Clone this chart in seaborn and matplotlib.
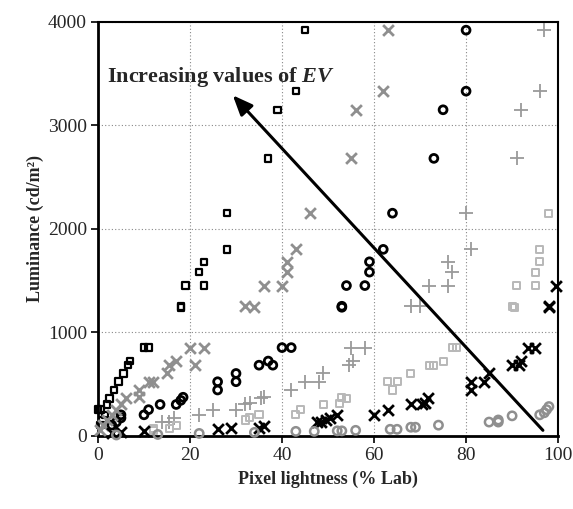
import matplotlib
matplotlib.use("Agg")
import matplotlib.pyplot as plt
import seaborn as sns
import pandas as pd

# ---------------- data ----------------
sq_black_x = [45, 43, 39, 37, 28, 28, 23, 22, 19, 23, 18, 18, 11, 10, 7, 6.5, 5.5, 4.5, 3.5, 2.5, 2, 0.5, 0, 1.5, 1, 0.5]
sq_black_y = [3920, 3330, 3150, 2680, 2150, 1800, 1680, 1580, 1450, 1450, 1250, 1240, 850, 850, 720, 680, 600, 520, 440, 360, 300, 250, 250, 200, 150, 100]

circ_black_x = [80, 80, 75, 73, 64, 62, 59, 59, 54, 58, 53, 53, 40, 42, 37, 35, 38, 30, 30, 26, 26, 18.5, 18, 17, 13.5, 11, 10, 5, 5, 4, 3]
circ_black_y = [3920, 3330, 3150, 2680, 2150, 1800, 1680, 1580, 1450, 1450, 1250, 1240, 850, 850, 720, 680, 680, 600, 520, 520, 440, 370, 340, 300, 300, 250, 200, 200, 170, 130, 100]

x_gray_x = [63, 62, 56, 55, 46, 43, 41, 41, 36, 40, 32, 34, 20, 23, 17, 15.5, 21, 15, 11, 12, 9, 9, 6, 5, 4, 3, 2, 1, 0.5]
x_gray_y = [3920, 3330, 3150, 2680, 2150, 1800, 1680, 1580, 1450, 1450, 1250, 1240, 850, 850, 720, 680, 680, 600, 520, 520, 440, 370, 360, 300, 250, 200, 150, 100, 50]

plus_gray_x = [97, 96, 92, 91, 80, 81, 76, 77, 72, 76, 68, 70, 55, 58, 55.5, 54.5, 49, 48, 45, 42, 36, 35.5, 33, 32, 30, 25, 22, 16.5, 15.5, 14]
plus_gray_y = [3920, 3330, 3150, 2680, 2150, 1800, 1680, 1580, 1450, 1450, 1250, 1250, 850, 850, 720, 680, 600, 520, 520, 440, 370, 360, 310, 300, 250, 250, 200, 170, 130, 130]

sq_light_x = [98, 96, 96, 95, 91, 95, 90, 90.5, 77, 78, 75, 72, 73, 68, 63, 65, 64, 53, 54, 52.5, 49, 44, 43, 35, 33, 32, 17, 15.5, 12, 12]
sq_light_y = [2150, 1800, 1680, 1580, 1450, 1450, 1250, 1240, 850, 850, 720, 680, 680, 600, 520, 520, 440, 370, 360, 310, 300, 250, 200, 200, 170, 150, 100, 70, 70, 50]

x_black_x = [99.5, 98, 98, 93.5, 95, 92, 91.5, 90, 85, 84, 81, 81, 71.8, 71, 70.5, 68, 63, 60, 52, 50.5, 49.5, 48.5, 47.5, 36, 35, 29, 26, 10, 5, 3]
x_black_y = [1450, 1250, 1240, 850, 850, 720, 680, 680, 600, 520, 520, 440, 360, 310, 300, 300, 250, 200, 200, 170, 150, 130, 130, 90, 70, 70, 60, 40, 30, 20]

circ_gray_x = [98, 97.5, 97, 96, 90, 87, 87, 85, 74, 69, 68, 65, 63.5, 56, 53, 52, 47, 43, 34, 22, 13, 4]
circ_gray_y = [280, 250, 220, 200, 190, 150, 130, 130, 100, 80, 80, 60, 60, 50, 45, 45, 40, 40, 30, 20, 10, 5]

x_ticks = [0, 20, 40, 60, 80, 100]
y_ticks = [0, 1000, 2000, 3000, 4000]

# ---------------- style ----------------
sns.set_style("white")
plt.rcParams['font.family'] = ['Liberation Serif', 'DejaVu Serif']
plt.rcParams['mathtext.fontset'] = 'custom'
plt.rcParams['mathtext.it'] = 'Liberation Serif:bold:italic'
plt.rcParams['mathtext.rm'] = 'Liberation Serif:bold'

fig = plt.figure(figsize=(5.73, 5.09), dpi=100)
ax = fig.add_axes([0.171, 0.1444, 0.803, 0.8126])

series = [
    (sq_black_x, sq_black_y, dict(marker='s', s=22, facecolors='none', edgecolors='black', linewidths=1.6)),
    (circ_black_x, circ_black_y, dict(marker='o', s=32, facecolors='none', edgecolors='black', linewidths=2.0)),
    (x_gray_x, x_gray_y, dict(marker='x', s=60, color='#8f8f8f', linewidths=2.0)),
    (plus_gray_x, plus_gray_y, dict(marker='+', s=110, color='#9a9a9a', linewidths=1.3)),
    (sq_light_x, sq_light_y, dict(marker='s', s=26, facecolors='none', edgecolors='#b8b8b8', linewidths=1.4)),
    (x_black_x, x_black_y, dict(marker='x', s=60, color='black', linewidths=2.0)),
    (circ_gray_x, circ_gray_y, dict(marker='o', s=36, facecolors='none', edgecolors='#8f8f8f', linewidths=1.8)),
]
for xs, ys, kw in series:
    df = pd.DataFrame({'x': xs, 'y': ys})
    sns.scatterplot(data=df, x='x', y='y', ax=ax, clip_on=False, zorder=3, **kw)

ax.set_xlim(0, 100)
ax.set_ylim(0, 4000)
ax.set_xticks(x_ticks)
ax.set_yticks(y_ticks)
ax.set_xticklabels([str(t) for t in x_ticks], fontsize=14)
ax.set_yticklabels([str(t) for t in y_ticks], fontsize=14)
ax.tick_params(axis='both', direction='out', length=5, width=1.2, color='black',
               bottom=True, left=True, pad=3)
ax.grid(True, linestyle=(0, (1, 2)), color='#888888', linewidth=0.8)
ax.set_axisbelow(True)
for side in ['left', 'bottom']:
    ax.spines[side].set_linewidth(2.0)
    ax.spines[side].set_color('black')
for side in ['top', 'right']:
    ax.spines[side].set_linewidth(1.5)
    ax.spines[side].set_color('black')

ax.set_xlabel('Pixel lightness (% Lab)', fontsize=13, fontweight='bold', labelpad=5)
ax.set_ylabel('Luminance (cd/m²)', fontsize=13, fontweight='bold', labelpad=3)

ax.annotate('', xy=(29.3, 3290), xytext=(96.7, 50),
            arrowprops=dict(arrowstyle='-|>,head_length=1.2,head_width=0.5', color='black',
                            lw=2.2, shrinkA=0, shrinkB=0), zorder=5)
ax.text(1.9, 3420, 'Increasing values of $EV$', fontsize=16, fontweight='bold',
        ha='left', va='baseline', zorder=6)

fig.savefig('out.png', dpi=100)
